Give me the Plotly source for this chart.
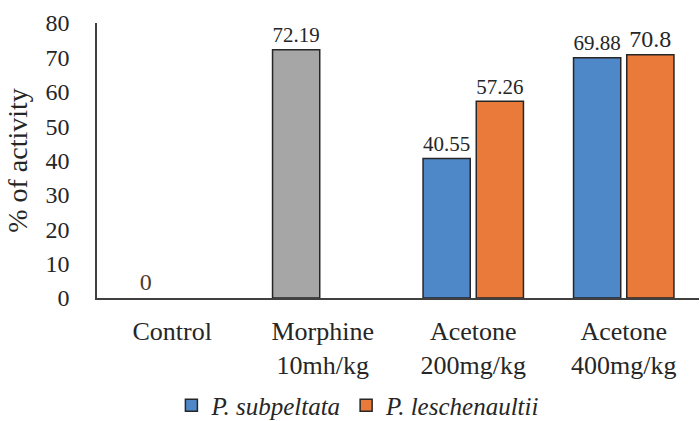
import plotly.graph_objects as go

# Treatment groups (x categories)
categories = ["Control", "Morphine<br>10mh/kg", "Acetone<br>200mg/kg", "Acetone<br>400mg/kg"]

# % of activity per group
control = [0]
morphine = [72.19]
subpeltata = [40.55, 69.88]      # P. subpeltata extract, 200 and 400 mg/kg
leschenaultii = [57.26, 70.8]    # P. leschenaultii extract, 200 and 400 mg/kg

BLUE = "#4f88c8"
ORANGE = "#e97a3a"
GREY = "#a6a6a6"
OUTLINE = "#262626"
TEXT = "#262626"
FONT = "Liberation Serif"

# First slot of each cluster: control, morphine, then P. subpeltata
left_vals = control + morphine + subpeltata
left_colors = [BLUE, GREY, BLUE, BLUE]
left_outline = [0, 1.5, 1.5, 1.5]
left_text_colors = ["#4d3b2c", TEXT, TEXT, TEXT]

# Second slot: only the acetone groups have a P. leschenaultii bar
right_vals = [None, None] + leschenaultii


def fmt(v):
    return "" if v is None else f"{v:g}"


fig = go.Figure()
fig.add_trace(go.Bar(
    x=categories, y=left_vals,
    offsetgroup="left", showlegend=False,
    marker=dict(color=left_colors, line=dict(color=OUTLINE, width=left_outline)),
    text=[fmt(v) for v in left_vals],
    textposition="outside",
    textfont=dict(family=FONT, size=24, color=left_text_colors),
    cliponaxis=False,
))
fig.add_trace(go.Bar(
    x=categories, y=right_vals,
    offsetgroup="right",
    name="<i>P. leschenaultii</i>",
    marker=dict(color=ORANGE, line=dict(color=OUTLINE, width=1.5)),
    text=[fmt(v) for v in right_vals],
    textposition="outside",
    textfont=dict(family=FONT, size=24, color=TEXT),
    cliponaxis=False,
))
# Legend entry for the blue series (shares the left slot, draws no bar)
fig.add_trace(go.Bar(
    x=[categories[0]], y=[None],
    offsetgroup="left",
    name="<i>P. subpeltata</i>",
    marker=dict(color=BLUE, line=dict(color=OUTLINE, width=1.5)),
    legendrank=1,
))

fig.update_layout(
    width=700, height=421,
    margin=dict(l=97, r=1, t=23, b=123),
    paper_bgcolor="white", plot_bgcolor="white",
    barmode="group", bargap=0.293, bargroupgap=0.113,
    font=dict(family=FONT, color=TEXT),
    showlegend=True,
    legend=dict(
        orientation="h",
        xref="container", yref="container",
        x=0.512, xanchor="center",
        y=0.037, yanchor="middle",
        font=dict(family=FONT, size=25, color=TEXT),
        itemwidth=30,
    ),
    xaxis=dict(
        showline=True, linecolor="#404040", linewidth=1.5,
        showgrid=False, ticks="",
        tickfont=dict(family=FONT, size=26, color=TEXT),
        ticklabelstandoff=9,
    ),
    yaxis=dict(
        range=[0, 80], dtick=10,
        showline=True, linecolor="#404040", linewidth=1.5,
        showgrid=False, zeroline=False, ticks="",
        tickfont=dict(family=FONT, size=24, color=TEXT),
        ticklabelstandoff=21,
        title=dict(text="% of activity", font=dict(family=FONT, size=28, color=TEXT), standoff=10),
    ),
)

fig.write_html("out.html")
